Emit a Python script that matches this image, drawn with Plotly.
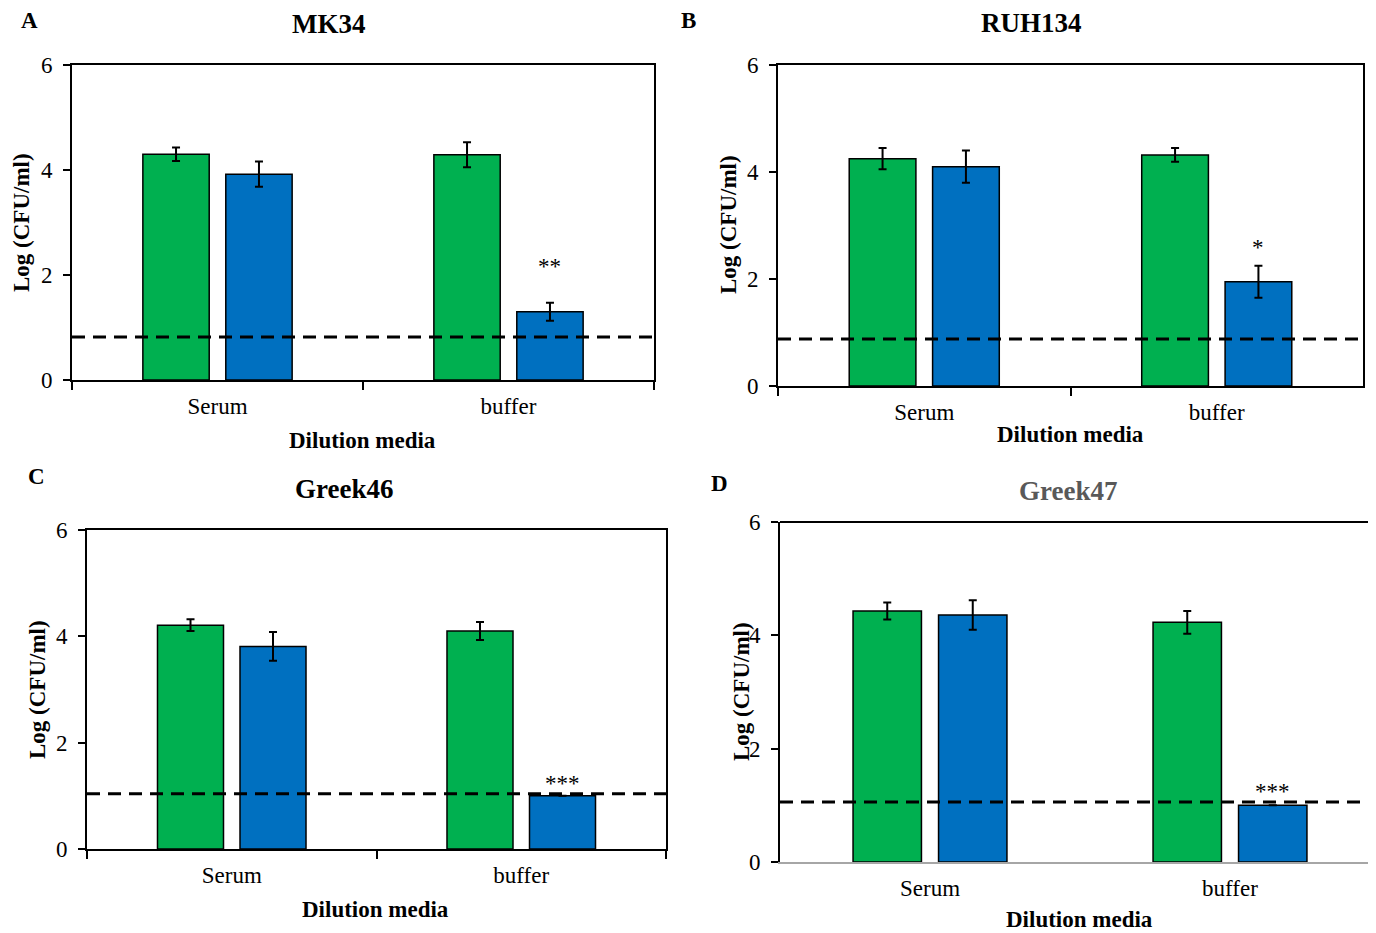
import plotly.graph_objects as go

# ---------------- data ----------------
categories = ["Serum", "buffer"]
strains = ["MK34", "RUH134", "Greek46", "Greek47"]
panel_letters = ["A", "B", "C", "D"]

mk34_green = [4.30, 4.29]
mk34_green_err = [0.13, 0.24]
mk34_blue = [3.92, 1.30]
mk34_blue_err = [0.24, 0.17]

ruh134_green = [4.25, 4.32]
ruh134_green_err = [0.20, 0.13]
ruh134_blue = [4.10, 1.95]
ruh134_blue_err = [0.30, 0.30]

greek46_green = [4.21, 4.10]
greek46_green_err = [0.11, 0.17]
greek46_blue = [3.81, 1.00]
greek46_blue_err = [0.27, 0.0]

greek47_green = [4.43, 4.23]
greek47_green_err = [0.15, 0.20]
greek47_blue = [4.36, 1.00]
greek47_blue_err = [0.26, 0.0]

detection_limits = [0.82, 0.88, 1.04, 1.06]
significance = ["**", "*", "***", "***"]
significance_y = [2.16, 2.59, 1.24, 1.24]

y_ticks = [0, 2, 4, 6]

green_sets = [mk34_green, ruh134_green, greek46_green, greek47_green]
green_errs = [mk34_green_err, ruh134_green_err, greek46_green_err, greek47_green_err]
blue_sets = [mk34_blue, ruh134_blue, greek46_blue, greek47_blue]
blue_errs = [mk34_blue_err, ruh134_blue_err, greek46_blue_err, greek47_blue_err]

# ---------------- style ----------------
PAGE_W, PAGE_H = 1376, 933
BODY = 8  # default page margin around the figure
W, H = PAGE_W - BODY, PAGE_H - BODY
FONT = "Liberation Serif"
GREEN = "#00B050"
BLUE = "#0070C0"
BARGAP = 0.43
BARGROUPGAP = 0.2

# plot areas in page pixels: (left, right, top, bottom)
boxes = [
    (72, 654, 65, 380),
    (778, 1363, 65, 386),
    (87, 666, 530, 849),
    (780, 1376, 522, 862),
]
title_pos = [(329, 24), (1031, 23), (344, 489), (1068, 491)]
title_colors = ["black", "black", "black", "#595959"]
letter_pos = [(29, 21), (688, 21), (36, 476), (719, 483)]
xtitle_pos = [(362, 440), (1070, 435), (375, 909), (1079, 919)]
ytitle_pos = [(21, 223), (728, 225), (37, 690), (741, 692)]


def px(x):
    return (x - BODY) / W


def py(y):
    return 1 - (y - BODY) / H


fig = go.Figure()
annotations = []
shapes = []

for i in range(4):
    n = "" if i == 0 else str(i + 1)
    xa, ya = "x" + n, "y" + n
    err_style = dict(type="data", color="black", thickness=2, width=4, visible=True)
    fig.add_trace(go.Bar(
        x=categories, y=green_sets[i], xaxis=xa, yaxis=ya,
        marker=dict(color=GREEN, line=dict(color="black", width=1.5)),
        error_y=dict(array=green_errs[i], **err_style),
        showlegend=False, offsetgroup="g", hoverinfo="y",
    ))
    fig.add_trace(go.Bar(
        x=categories, y=blue_sets[i], xaxis=xa, yaxis=ya,
        marker=dict(color=BLUE, line=dict(color="black", width=1.5)),
        error_y=dict(array=blue_errs[i], **err_style),
        showlegend=False, offsetgroup="b", hoverinfo="y",
    ))

    l, r, t, b = boxes[i]
    is_d = i == 3
    xr = [-0.5, 1.5]
    if is_d:
        # panel D is cut off at the right edge of the picture
        xr = [-0.5, 1.5 - 4 / 300]
    fig.update_layout(**{
        "xaxis" + n: dict(
            domain=[px(l), min(1.0, px(r))], anchor=ya, automargin=False,
            type="category", categoryorder="array", categoryarray=categories,
            range=xr, tickson="boundaries",
            ticks="" if is_d else "outside", ticklen=8, tickwidth=2, tickcolor="black",
            showline=True, linecolor="#A6A6A6" if is_d else "black", linewidth=2,
            mirror=False if is_d else True,
            showgrid=False, zeroline=False,
            tickfont=dict(family=FONT, size=23, color="black"),
            ticklabelstandoff=4,
        ),
        "yaxis" + n: dict(
            domain=[py(b), py(t)], anchor=xa, range=[0, 6], automargin=False,
            tickmode="array", tickvals=y_ticks,
            ticks="outside", ticklen=7, tickwidth=2, tickcolor="black",
            showline=True, linecolor="black", linewidth=2,
            mirror=False if is_d else True,
            showgrid=False, zeroline=False,
            tickfont=dict(family=FONT, size=23, color="black"),
            ticklabelstandoff=6,
        ),
    })

    if is_d:
        shapes.append(dict(type="line", xref=xa + " domain", yref=ya + " domain",
                           x0=0, x1=1, y0=1, y1=1,
                           line=dict(color="black", width=2)))

    # detection limit dashed line
    shapes.append(dict(type="line", xref=xa + " domain", yref=ya,
                       x0=0, x1=1, y0=detection_limits[i], y1=detection_limits[i],
                       line=dict(color="black", width=3, dash="13px,8px"), layer="above"))

    # significance stars over the blue buffer bar
    annotations.append(dict(
        x=categories.index("buffer") + (1 - BARGAP) / 4, y=significance_y[i],
        xref=xa, yref=ya, text=significance[i], showarrow=False,
        xanchor="center", yanchor="middle",
        font=dict(family=FONT, size=23, color="black"),
    ))

    common = dict(xref="paper", yref="paper", showarrow=False,
                  xanchor="center", yanchor="middle")
    tx, ty = title_pos[i]
    annotations.append(dict(x=px(tx), y=py(ty), text="<b>%s</b>" % strains[i],
                            font=dict(family=FONT, size=27, color=title_colors[i]), **common))
    lx, ly = letter_pos[i]
    annotations.append(dict(x=px(lx), y=py(ly), text="<b>%s</b>" % panel_letters[i],
                            font=dict(family=FONT, size=23, color="black"), **common))
    xx, xy = xtitle_pos[i]
    annotations.append(dict(x=px(xx), y=py(xy), text="<b>Dilution media</b>",
                            font=dict(family=FONT, size=23, color="black"), **common))
    yx, yy = ytitle_pos[i]
    annotations.append(dict(x=px(yx), y=py(yy), text="<b>Log (CFU/ml)</b>", textangle=-90,
                            font=dict(family=FONT, size=23, color="black"), **common))

fig.update_layout(
    width=W, height=H,
    margin=dict(l=0, r=0, t=0, b=0, autoexpand=False),
    paper_bgcolor="white", plot_bgcolor="white",
    barmode="group", bargap=BARGAP, bargroupgap=BARGROUPGAP,
    annotations=annotations, shapes=shapes,
    font=dict(family=FONT, color="black"),
)

fig.write_html("out.html")
